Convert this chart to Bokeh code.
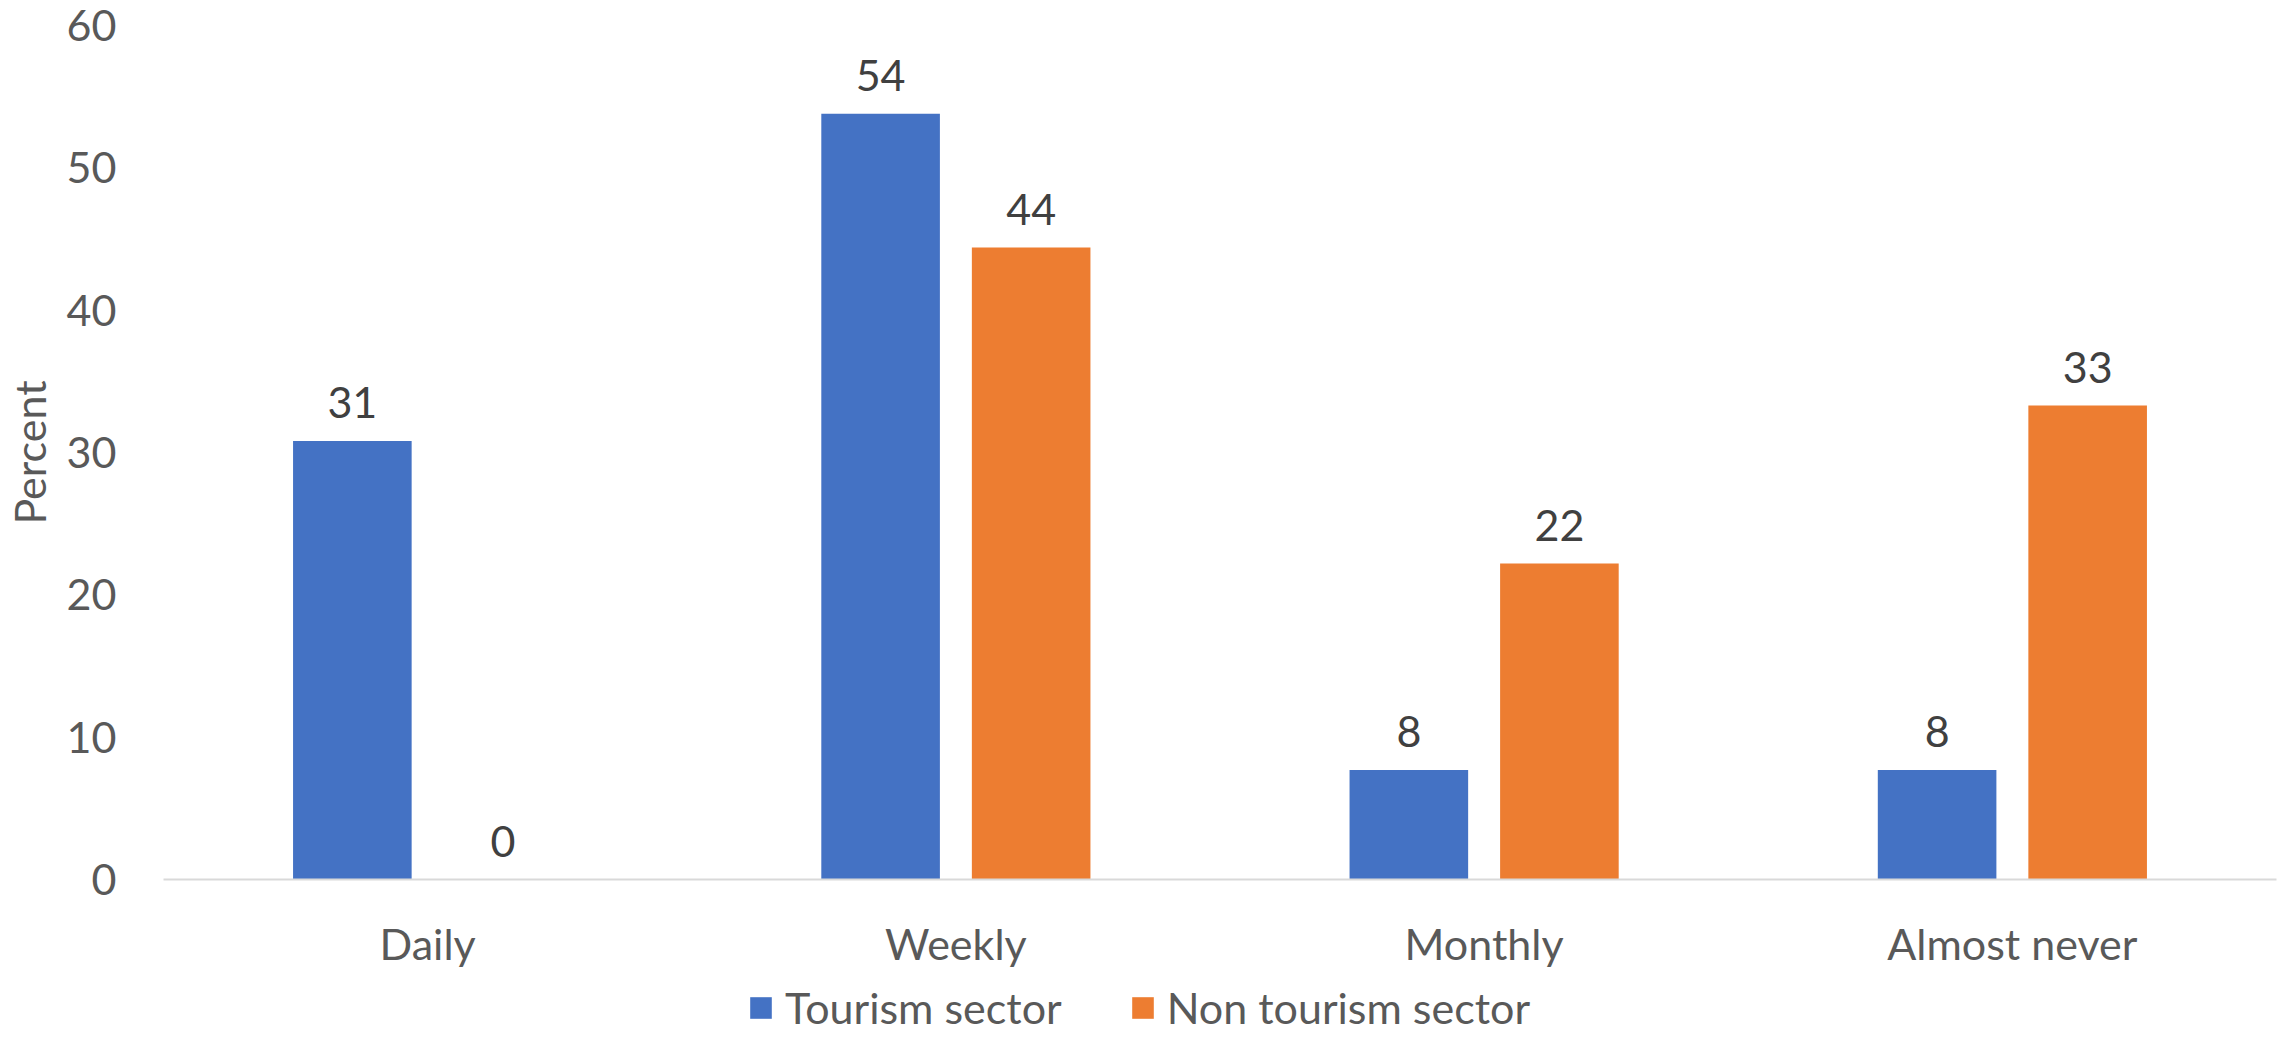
from bokeh.plotting import figure
from bokeh.layouts import column
from bokeh.models import (ColumnDataSource, FactorRange, Range1d, FixedTicker, LabelSet,
                          Legend, LegendItem)
from bokeh.core.properties import value
from bokeh.transform import dodge
from bokeh.embed import file_html
from bokeh.resources import INLINE

categories = ["Daily", "Weekly", "Monthly", "Almost never"]
tourism = [30.8, 53.8, 7.7, 7.7]
non_tourism = [0.0, 44.4, 22.2, 33.3]
series_names = ["Tourism sector", "Non tourism sector"]
series_colors = ["#4472C4", "#ED7D31"]
y_ticks = [0, 10, 20, 30, 40, 50, 60]

FONT = "Lato"
FS = "43px"
W = 2279
H_MAIN = 907
H_LEG = 126

src = ColumnDataSource(dict(
    cat=categories,
    t=tourism,
    n=non_tourism,
    tl=[f"{v:.0f}" for v in tourism],
    nl=[f"{v:.0f}" for v in non_tourism],
))

xr = FactorRange(*categories, range_padding=0)
p = figure(x_range=xr, y_range=Range1d(0, 60),
           width=W, height=H_MAIN, output_backend="svg", toolbar_location=None,
           min_border_left=156, min_border_right=3, min_border_top=25, min_border_bottom=28)
p.outline_line_color = None
p.background_fill_color = "white"
p.xgrid.grid_line_color = None
p.ygrid.grid_line_color = None

off = 0.1425
w = 0.2245
p.vbar(x=dodge("cat", -off, range=xr), top="t", width=w, source=src,
       fill_color=series_colors[0], line_color=None)
p.vbar(x=dodge("cat", off, range=xr), top="n", width=w, source=src,
       fill_color=series_colors[1], line_color=None)

for col, lab, o in (("t", "tl", -off), ("n", "nl", off)):
    ls = LabelSet(x=dodge("cat", o, range=xr), y=col, text=lab, source=src,
                  text_align="center", text_baseline="alphabetic", y_offset=23,
                  text_font=value(FONT), text_font_size=value(FS), text_color="#404040")
    p.add_layout(ls)

# y axis
p.yaxis.ticker = FixedTicker(ticks=y_ticks)
p.yaxis.axis_line_color = None
p.yaxis.major_tick_line_color = None
p.yaxis.minor_tick_line_color = None
p.yaxis.major_tick_out = 0
p.yaxis.major_label_standoff = 47
p.yaxis.major_label_text_font = FONT
p.yaxis.major_label_text_font_size = FS
p.yaxis.major_label_text_color = "#595959"
p.yaxis.axis_label = "Percent"
p.yaxis.axis_label_text_font = FONT
p.yaxis.axis_label_text_font_size = FS
p.yaxis.axis_label_text_font_style = "normal"
p.yaxis.axis_label_text_color = "#595959"
p.yaxis.axis_label_standoff = 9

# x axis: only the baseline here; category names drawn in the strip below
p.xaxis.axis_line_color = "#D9D9D9"
p.xaxis.axis_line_width = 2
p.xaxis.major_tick_line_color = None
p.xaxis.major_tick_out = 0
p.xaxis.major_tick_in = 0
p.xaxis.major_label_standoff = 0
p.xaxis.major_label_text_font_size = "1px"
p.xaxis.major_label_text_color = None

# strip below: category names + legend
lg = figure(width=W, height=H_LEG, x_range=xr, y_range=Range1d(0, H_LEG),
            output_backend="svg", toolbar_location=None,
            x_axis_location=None, y_axis_location=None,
            min_border_left=156, min_border_right=3, min_border_top=0, min_border_bottom=0)
lg.outline_line_color = None
lg.xgrid.grid_line_color = None
lg.ygrid.grid_line_color = None

cat_src = ColumnDataSource(dict(cat=categories))
lg.add_layout(LabelSet(x="cat", y=74, text="cat", source=cat_src,
                       text_align="center", text_baseline="alphabetic",
                       text_font=value(FONT), text_font_size=value(FS), text_color="#595959"))

items = []
for name, colr in zip(series_names, series_colors):
    r = lg.vbar(x=[categories[0]], top=[0], bottom=[0], width=0.1,
                fill_color=colr, line_color=None)
    items.append(LegendItem(label=name, renderers=[r]))
legend = Legend(items=items, orientation="horizontal", location=(584, 0),
                label_text_font=FONT, label_text_font_size=FS, label_text_color="#595959",
                glyph_width=27, glyph_height=27, label_standoff=11, spacing=67,
                border_line_color=None, background_fill_alpha=0,
                padding=0, margin=0)
lg.add_layout(legend, "center")

layout = column(p, lg, spacing=0)
open("out.html", "w").write(file_html(layout, INLINE))
